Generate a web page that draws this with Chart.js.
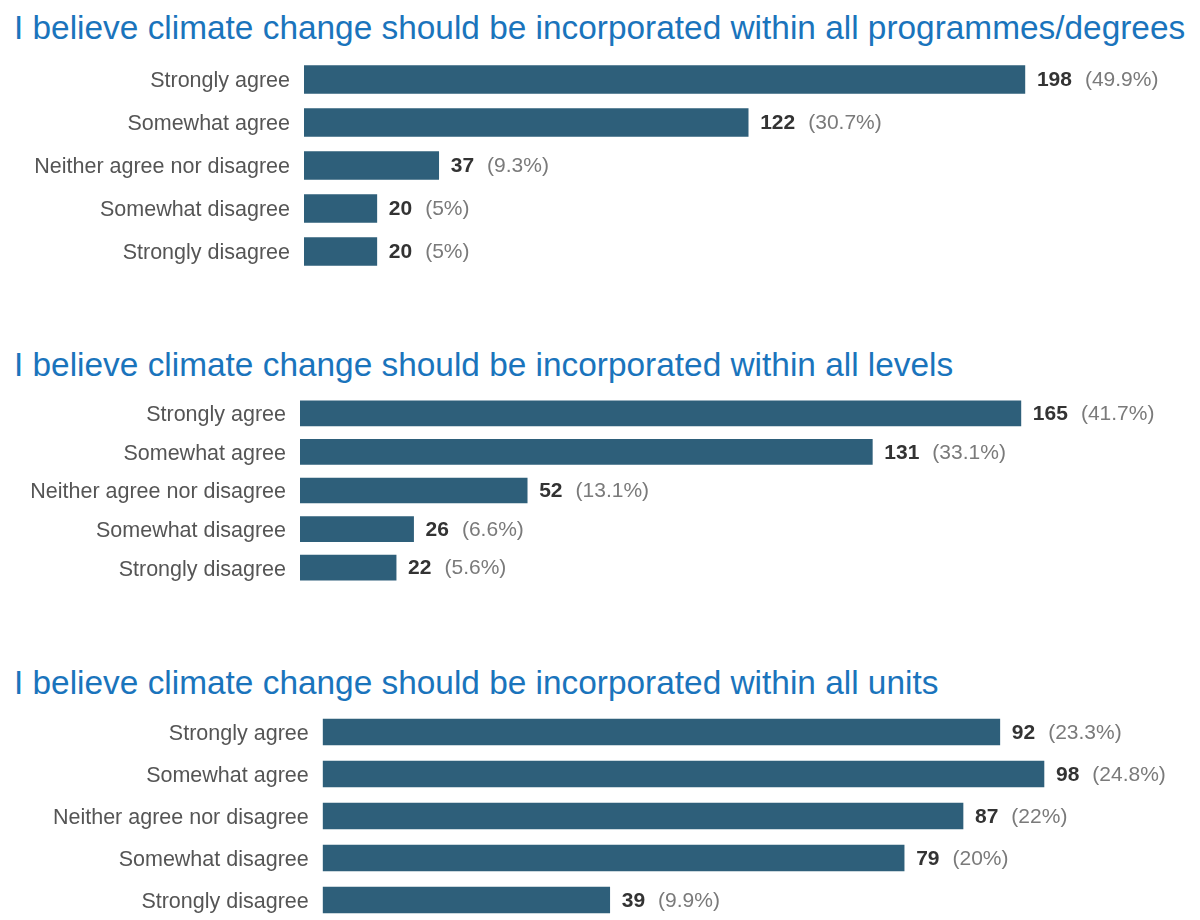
<!DOCTYPE html>
<html>
<head>
<meta charset="utf-8">
<script src="https://cdn.jsdelivr.net/npm/chart.js@4.4.0/dist/chart.umd.min.js"></script>
<style>
  body { margin: 0; background: #fff; width: 1200px; height: 920px; position: relative; overflow: hidden; }
  .title { position: absolute; left: 14px; color: #1a74bc; font-family: "Liberation Sans", Arial, sans-serif;
           font-size: 33.4px; line-height: 1; white-space: nowrap; }
  .box { position: absolute; left: 0; width: 1200px; }
</style>
</head>
<body>
<div class="title" style="top:10.7px">I believe climate change should be incorporated within all programmes/degrees</div>
<div class="box" style="top:57.5px;height:215px"><canvas id="grafico1"></canvas></div>

<div class="title" style="top:347.7px">I believe climate change should be incorporated within all levels</div>
<div class="box" style="top:394px;height:193px"><canvas id="grafico2"></canvas></div>

<div class="title" style="top:665.7px">I believe climate change should be incorporated within all units</div>
<div class="box" style="top:710.5px;height:210px"><canvas id="grafico3"></canvas></div>

<script>
var answers = ['Strongly agree', 'Somewhat agree', 'Neither agree nor disagree', 'Somewhat disagree', 'Strongly disagree'];

var programmesCount = [198, 122, 37, 20, 20];
var programmesPct = ['49.9', '30.7', '9.3', '5', '5'];

var levelsCount = [165, 131, 52, 26, 22];
var levelsPct = ['41.7', '33.1', '13.1', '6.6', '5.6'];

var unitsCount = [92, 98, 87, 79, 39];
var unitsPct = ['23.3', '24.8', '22', '20', '9.9'];

var labelFont = '"Liberation Sans", Arial, sans-serif';

// bold count + grey percentage to the right of each bar
var valueLabels = {
    id: 'valueLabels',
    afterDatasetsDraw: function(chart) {
        var ctx = chart.ctx;
        var ds = chart.data.datasets[0];
        var meta = chart.getDatasetMeta(0);
        ctx.save();
        ctx.textBaseline = 'middle';
        ctx.textAlign = 'left';
        meta.data.forEach(function(bar, i) {
            var x = bar.x + 12;
            var txt = String(ds.data[i]);
            ctx.font = 'bold 21px ' + labelFont;
            ctx.fillStyle = '#333';
            ctx.fillText(txt, x, bar.y + 1);
            x += ctx.measureText(txt).width + 13;
            ctx.font = '21px ' + labelFont;
            ctx.fillStyle = '#7a7a7a';
            ctx.fillText('(' + ds.pcts[i] + '%)', x, bar.y + 1);
        });
        ctx.restore();
    }
};

function makeGraphic(id, counts, pcts, axisWidth, xMax, thickness) {
    var canvas = document.getElementById('grafico' + id);
    return new Chart(canvas, {
        type: 'bar',
        data: {
            labels: answers,
            datasets: [{
                data: counts,
                pcts: pcts,
                backgroundColor: '#2e5f7a',
                borderWidth: 0,
                barThickness: thickness
            }]
        },
        options: {
            indexAxis: 'y',
            responsive: true,
            maintainAspectRatio: false,
            animation: false,
            layout: { padding: 0 },
            plugins: { legend: { display: false }, tooltip: { enabled: false } },
            scales: {
                x: { display: false, min: 0, max: xMax },
                y: {
                    grid: { display: false, drawTicks: false, tickLength: 0 },
                    border: { display: false },
                    ticks: { color: '#555', padding: 14, labelOffset: 2, font: { family: labelFont, size: 21.5 } },
                    afterFit: function(scale) {
                        scale.width = axisWidth;
                        scale.paddingTop = 0;
                        scale.paddingBottom = 0;
                    }
                }
            }
        },
        plugins: [valueLabels]
    });
}

makeGraphic(1, programmesCount, programmesPct, 304, 246.1, 28);
makeGraphic(2, levelsCount, levelsPct, 300, 206, 25);
makeGraphic(3, unitsCount, unitsPct, 322.7, 119.2, 26);
</script>
</body>
</html>
